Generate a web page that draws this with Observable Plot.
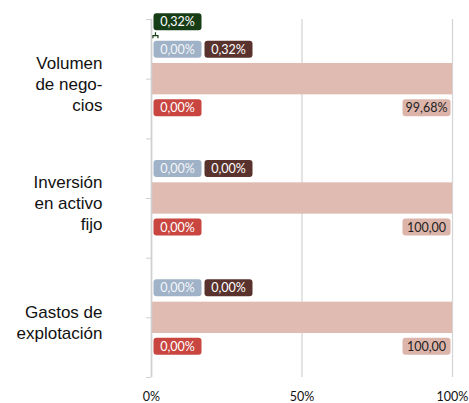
<!DOCTYPE html>
<html><head><meta charset="utf-8">
<script src="https://cdn.jsdelivr.net/npm/d3@7"></script>
<script src="https://cdn.jsdelivr.net/npm/@observablehq/plot@0.6"></script>
<style>body{margin:0;background:#fff}</style>
</head><body><div id="chart"></div>
<script>
const categories = ["Volumen de negocios", "Inversión en activo fijo", "Gastos de explotación"];
const categoryLines = ["Volumen\nde nego-\ncios", "Inversión\nen activo\nfijo", "Gastos de\nexplotación"];
const seriesNames = ["Serie 1", "Serie 2", "Serie 3", "Serie 4", "Serie 5"];
const greenValues = [0.32, null, null];   // marker series (not stacked)
const blueValues = [0, 0, 0];
const brownValues = [0.32, 0, 0];
const redValues = [0, 0, 0];
const pinkValues = [99.68, 100, 100];
const pinkLabels = ["99,68%", "100,00", "100,00"];
const xTicks = [0, 50, 100];

const stackedValues = [blueValues, brownValues, redValues, pinkValues];
const seriesColors = ["#173d17", "#a0b2c7", "#5a322d", "#c8463f", "#e0bbb2"];
const boxColors = ["#173d17", "#a0b2c7", "#5a322d", "#c8463f", "#dcb4aa"];
const textColors = ["#ffffff", "#f4f6fa", "#ffffff", "#ffffff", "#222222"];
const fmt = v => v.toFixed(2).replace(".", ",") + "%";

const segs = [];
categories.forEach((c, i) => {
  const total = d3.sum(stackedValues, s => s[i] ?? 0);
  let acc = 0;
  stackedValues.forEach((s, j) => {
    const k = j + 1, v = s[i];
    if (v == null) return;
    segs.push({cat: i, series: k, value: v, x1: acc / total * 100, x2: (acc + v) / total * 100,
      label: k === 4 ? pinkLabels[i] : fmt(v)});
    acc += v;
  });
});
const greenRows = greenValues.map((v, i) => ({cat: i, series: 0, value: v, x1: v, label: v == null ? null : fmt(v)}))
  .filter(d => d.value != null);
const allRows = [...greenRows, ...segs];

const roundBox = {draw(ctx) {
  const w = 24, h = 8.5, r = 3;
  ctx.moveTo(-w + r, -h); ctx.lineTo(w - r, -h); ctx.arcTo(w, -h, w, -h + r, r);
  ctx.lineTo(w, h - r); ctx.arcTo(w, h, w - r, h, r);
  ctx.lineTo(-w + r, h); ctx.arcTo(-w, h, -w, h - r, r);
  ctx.lineTo(-w, -h + r); ctx.arcTo(-w, -h, -w + r, -h, r); ctx.closePath();
}};
const marker = {draw(ctx) {
  ctx.moveTo(0, -3); ctx.lineTo(0, 0);
  ctx.moveTo(-2.5, 3); ctx.lineTo(-2.5, 0.5); ctx.lineTo(2.5, 0.5); ctx.lineTo(2.5, 3);
}};

// label placement per series: [dy, dx, anchor]
const place = [[-57.5, 26, "x1"], [-30, 26, "x1"], [-30, 77, "x1"], [28.5, 26, "x1"], [28.5, -26, "x2"]];
const labelMarks = [];
place.forEach(([dy, dx, anchor], k) => {
  const rows = allRows.filter(d => d.series === k);
  const opts = {x: d => anchor === "x1" ? 0 : 100, y: d => d.cat + 0.5, dx, dy};
  labelMarks.push(Plot.dot(rows, {...opts, symbol: roundBox, fill: boxColors[k], stroke: null, r: 5}));
  labelMarks.push(Plot.text(rows, {...opts, text: "label", fill: textColors[k], fontSize: 12.5, fontFamily: "Lato", dy: dy + 0.5}));
});

const chart = Plot.plot({
  width: 469, height: 403,
  marginLeft: 151, marginRight: 17, marginTop: 19, marginBottom: 26,
  x: {domain: [0, 100], axis: null},
  y: {domain: [0, categories.length], reverse: true, axis: null},
  style: {background: "#fff", fontFamily: "Lato"},
  marks: [
    Plot.gridX(xTicks, {stroke: "#d6d6d6", strokeOpacity: 1, strokeWidth: 1.3}),
    Plot.axisY(d3.range(0, categories.length + 0.01, 0.5), {tickSize: 5, tickFormat: () => "", stroke: "#d0d0d0"}),
    Plot.axisX(xTicks, {tickSize: 0, tickPadding: 15, tickFormat: d => d + "%", fontSize: 12.5, fontFamily: "Lato", fill: "#111"}),
    Plot.rect(segs, {x1: "x1", x2: "x2", y1: d => d.cat, y2: d => d.cat + 1, insetTop: 44, insetBottom: 44,
      fill: d => seriesColors[d.series]}),
    Plot.ruleX([xTicks[0]], {stroke: "#d0d0d0", strokeWidth: 1.6}),
    Plot.dot(greenRows, {x: "x1", y: d => d.cat + 0.5, dx: 3, dy: -44, symbol: marker, stroke: seriesColors[0], fill: "none", strokeWidth: 1.2}),
    ...labelMarks,
    Plot.text(categoryLines, {x: 0, y: (d, i) => i + 0.5, text: d => d, dx: -49, dy: 4, textAnchor: "end",
      lineHeight: 1.22, fontSize: 17, fontFamily: "Liberation Sans", fill: "#111"})
  ]
});
document.getElementById("chart").appendChild(chart);
</script>
</body></html>
